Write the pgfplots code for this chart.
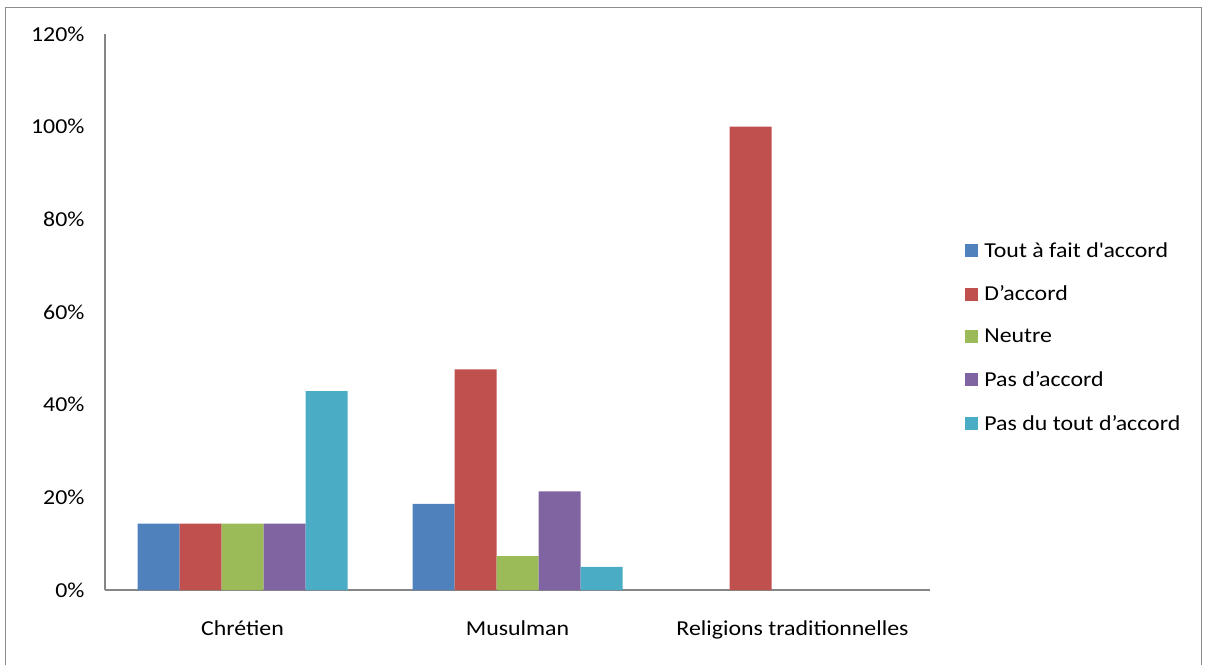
\documentclass[border=0pt]{standalone}
\usepackage{fontspec}
\setmainfont{Carlito}[FakeStretch=1.12]
\usepackage{pgfplots}
\pgfplotsset{compat=1.18}
\definecolor{cA}{HTML}{4F81BD}
\definecolor{cB}{HTML}{C0504D}
\definecolor{cC}{HTML}{9BBB59}
\definecolor{cD}{HTML}{8064A2}
\definecolor{cE}{HTML}{4BACC6}
\definecolor{axgray}{HTML}{868686}
\definecolor{framegray}{HTML}{8C8C8C}
\begin{document}
\begin{tikzpicture}[font=\fontsize{21.3}{25}\selectfont]
\useasboundingbox (0pt,0pt) rectangle (1207pt,664pt);
\draw[framegray, line width=1.3pt] (5.5pt,-5pt) rectangle (1201.5pt,656.5pt);
\begin{axis}[
  at={(105pt,74pt)}, anchor=south west,
  scale only axis, width=825pt, height=556pt,
  ybar=0pt, bar width=42pt,
  xmin=-0.5, xmax=2.5, ymin=0, ymax=120,
  xtick={0,1,2},
  xticklabels={Chrétien, Musulman, Religions traditionnelles},
  ytick={0,20,40,60,80,100,120},
  yticklabel={\pgfmathprintnumber{\tick}\%},
  /pgf/number format/assume math mode=true,
  axis x line*=bottom, axis y line*=left,
  axis line style={axgray, line width=1.2pt, -},
  major tick length=0pt,
  xticklabel style={yshift=-27pt},
  yticklabel style={xshift=-17pt},
  legend style={at={(1.039,0.455)}, anchor=west, draw=none, fill=none,
    row sep=23pt, nodes={inner xsep=6pt}},
  legend cell align=left,
  legend image code/.code={\fill[#1] (0pt,-6.5pt) rectangle (13pt,6.5pt);},
]
\addplot[fill=cA, draw=none] coordinates {(0,14.3) (1,18.6)};
\addplot[fill=cB, draw=none] coordinates {(0,14.3) (1,47.6) (2,100)};
\addplot[fill=cC, draw=none] coordinates {(0,14.3) (1,7.3)};
\addplot[fill=cD, draw=none] coordinates {(0,14.3) (1,21.3)};
\addplot[fill=cE, draw=none] coordinates {(0,42.9) (1,5.0)};
\legend{Tout à fait d\textquotesingle accord, D’accord, Neutre, Pas d’accord, Pas du tout d’accord}
\end{axis}
\end{tikzpicture}
\end{document}
